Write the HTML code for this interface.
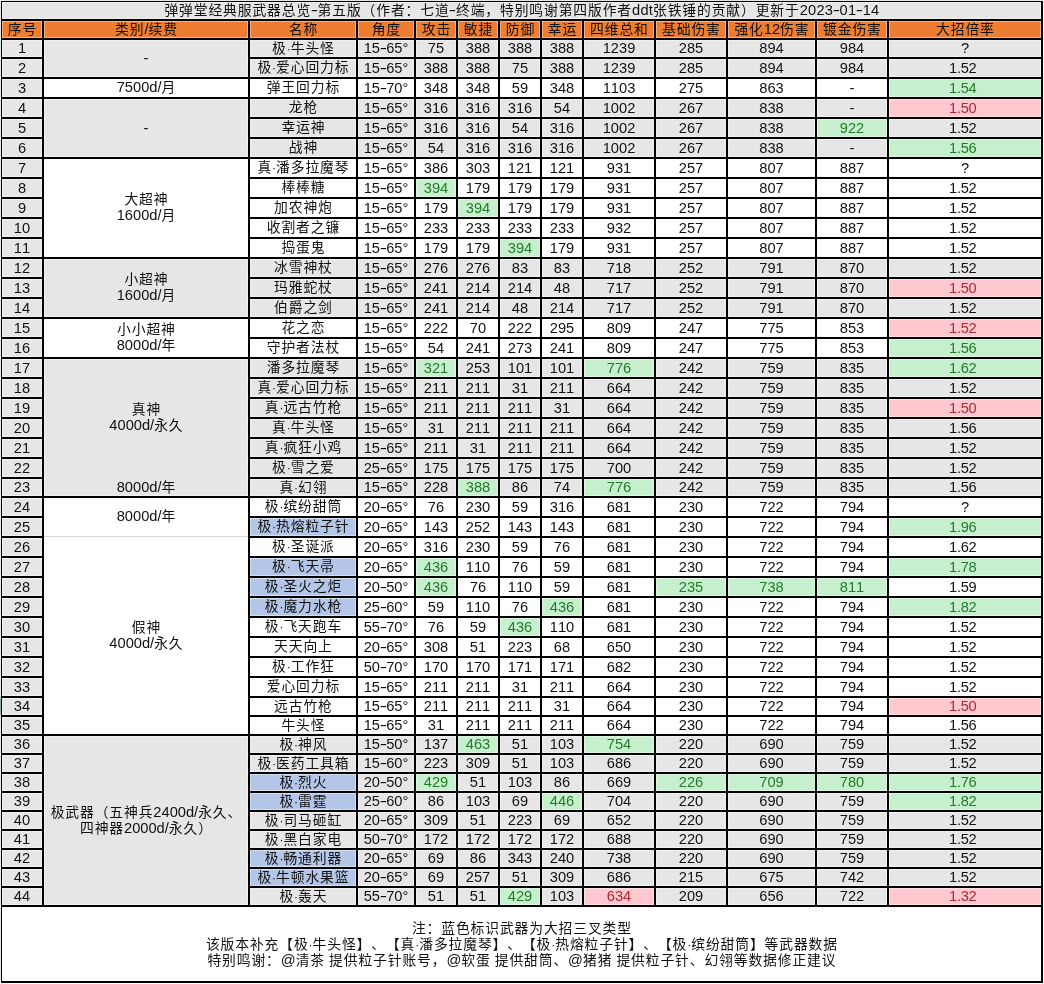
<!DOCTYPE html>
<html lang="zh-CN"><head><meta charset="utf-8"><title>弹弹堂经典服武器总览</title>
<style>
html,body{margin:0;padding:0;background:#fff}
body{width:1044px;height:984px;position:relative;overflow:hidden;font-family:"Liberation Sans","Noto Sans CJK SC",sans-serif;font-weight:400;font-size:14.67px;letter-spacing:0px;color:#111;line-height:16px}
#s{position:absolute;left:0;top:0;width:1044px;height:984px;background:#fff;overflow:hidden}
#s div{position:absolute;box-sizing:border-box}
.t{text-align:center;white-space:nowrap;overflow:visible;text-spacing-trim:space-all;font-kerning:none}
u{text-decoration:none;display:inline-block;transform:scaleX(1.5);margin:0 .7px}
.c12{letter-spacing:-0.3px}
.m{padding-right:4.5px}
.z.tt b{letter-spacing:.2px}
i{font-size:12px;font-style:normal;font-family:"Liberation Sans",sans-serif;font-weight:400}
.z{font-size:13.8px;letter-spacing:0.87px;font-weight:400;padding-left:0.87px}
.z b,.z i{font-size:14.67px;letter-spacing:0px;font-weight:400;line-height:0}
.z i{font-weight:400;font-size:12px}
.gy{background:#e7e6e6}
.or{background:#ed7d31}
.g{background:#c6efce;color:#257a2a}
.r{background:#ffc7ce;color:#aa2a38}
.b{background:#b4c6e7}
.k{background:#000}
.h{background:rgba(255,255,255,.4)}
.c0{left:2px;width:40px}
.c1{left:44px;width:204px}
.c2{left:250px;width:106px}
.c3{left:358px;width:56px}
.c4{left:416px;width:40px}
.c5{left:458px;width:40px}
.c6{left:500px;width:40px}
.c7{left:542px;width:40px}
.c8{left:584px;width:70px}
.c9{left:656px;width:70px}
.c10{left:728px;width:87px}
.c11{left:817px;width:70px}
.c12{left:889px;width:152px}
.r1{top:40px;height:17px;line-height:17px}
.r2{top:59px;height:18px;line-height:18px}
.r3{top:79px;height:18px;line-height:18px}
.r4{top:99px;height:18px;line-height:18px}
.r5{top:119px;height:18px;line-height:18px}
.r6{top:139px;height:18px;line-height:18px}
.r7{top:159px;height:18px;line-height:18px}
.r8{top:179px;height:18px;line-height:18px}
.r9{top:199px;height:18px;line-height:18px}
.r10{top:219px;height:18px;line-height:18px}
.r11{top:239px;height:18px;line-height:18px}
.r12{top:259px;height:18px;line-height:18px}
.r13{top:279px;height:18px;line-height:18px}
.r14{top:299px;height:18px;line-height:18px}
.r15{top:319px;height:18px;line-height:18px}
.r16{top:339px;height:18px;line-height:18px}
.r17{top:359px;height:18px;line-height:18px}
.r18{top:379px;height:18px;line-height:18px}
.r19{top:399px;height:18px;line-height:18px}
.r20{top:419px;height:18px;line-height:18px}
.r21{top:439px;height:18px;line-height:18px}
.r22{top:459px;height:18px;line-height:18px}
.r23{top:479px;height:17px;line-height:17px}
.r24{top:498px;height:18px;line-height:18px}
.r25{top:518px;height:18px;line-height:18px}
.r26{top:538px;height:18px;line-height:18px}
.r27{top:558px;height:18px;line-height:18px}
.r28{top:578px;height:18px;line-height:18px}
.r29{top:598px;height:18px;line-height:18px}
.r30{top:618px;height:18px;line-height:18px}
.r31{top:638px;height:18px;line-height:18px}
.r32{top:658px;height:18px;line-height:18px}
.r33{top:678px;height:18px;line-height:18px}
.r34{top:698px;height:17px;line-height:17px}
.r35{top:717px;height:17px;line-height:17px}
.r36{top:736px;height:17px;line-height:17px}
.r37{top:755px;height:17px;line-height:17px}
.r38{top:774px;height:17px;line-height:17px}
.r39{top:793px;height:17px;line-height:17px}
.r40{top:812px;height:17px;line-height:17px}
.r41{top:831px;height:17px;line-height:17px}
.r42{top:850px;height:17px;line-height:17px}
.r43{top:869px;height:17px;line-height:17px}
.r44{top:888px;height:17px;line-height:17px}
</style></head><body><div id="s">
<div style="left:0;top:0;width:1px;height:984px;background:#d6d6d6"></div>
<div style="left:0;top:18px;width:1px;height:3px;background:#a9c9ef"></div>
<div style="left:0;top:38px;width:1px;height:8px;background:#bcd6f0"></div>
<div style="left:0;top:696px;width:1px;height:20px;background:#4f7a62"></div>
<div style="left:0;top:0;width:1044px;height:1px;background:#d9d9d9"></div>
<div class="gy" style="left:2px;top:2px;width:1039px;height:17px"></div>
<div class="t z tt" style="left:2px;top:2px;width:1039px;height:17px;line-height:17px">弹弹堂经典服武器总览<b><u>-</u></b>第五版（作者：七道<b><u>-</u></b>终端，特别鸣谢第四版作者<b>ddt</b>张铁锤的贡献）更新于<b>2023<u>-</u>01<u>-</u>14</b></div>
<div class="or" style="left:2px;top:21px;width:1039px;height:17px"></div>
<div class="t z c0" style="top:21px;height:17px;line-height:17px">序号</div>
<div class="t z c1" style="top:21px;height:17px;line-height:17px">类别<b>/</b>续费</div>
<div class="t z c2" style="top:21px;height:17px;line-height:17px">名称</div>
<div class="t z c3" style="top:21px;height:17px;line-height:17px">角度</div>
<div class="t z c4" style="top:21px;height:17px;line-height:17px">攻击</div>
<div class="t z c5" style="top:21px;height:17px;line-height:17px">敏捷</div>
<div class="t z c6" style="top:21px;height:17px;line-height:17px">防御</div>
<div class="t z c7" style="top:21px;height:17px;line-height:17px">幸运</div>
<div class="t z c8" style="top:21px;height:17px;line-height:17px">四维总和</div>
<div class="t z c9" style="top:21px;height:17px;line-height:17px">基础伤害</div>
<div class="t z c10" style="top:21px;height:17px;line-height:17px">强化<b>12</b>伤害</div>
<div class="t z c11" style="top:21px;height:17px;line-height:17px">镀金伤害</div>
<div class="t z c12" style="top:21px;height:17px;line-height:17px">大招倍率</div>
<div class="gy" style="left:44px;top:40px;width:997px;height:37px"></div>
<div class="gy" style="left:44px;top:99px;width:997px;height:58px"></div>
<div class="gy" style="left:44px;top:259px;width:997px;height:58px"></div>
<div class="gy" style="left:44px;top:359px;width:997px;height:137px"></div>
<div class="gy" style="left:44px;top:736px;width:997px;height:169px"></div>
<div class="gy" style="left:2px;top:40px;width:40px;height:865px"></div>
<div class="t c0 r1">1</div> <div class="t z c2 r1">极<i>·</i>牛头怪</div> <div class="t c3 r1">15<u>-</u>65°</div> <div class="t c4 r1">75</div> <div class="t c5 r1">388</div> <div class="t c6 r1">388</div> <div class="t c7 r1">388</div> <div class="t c8 r1">1239</div> <div class="t c9 r1">285</div> <div class="t c10 r1">894</div> <div class="t c11 r1">984</div> <div class="t c12 r1">?</div>
<div class="t c0 r2">2</div> <div class="t z c2 r2">极<i>·</i>爱心回力标</div> <div class="t c3 r2">15<u>-</u>65°</div> <div class="t c4 r2">388</div> <div class="t c5 r2">388</div> <div class="t c6 r2">75</div> <div class="t c7 r2">388</div> <div class="t c8 r2">1239</div> <div class="t c9 r2">285</div> <div class="t c10 r2">894</div> <div class="t c11 r2">984</div> <div class="t c12 r2 m">1.52</div>
<div class="t c0 r3">3</div> <div class="t z c2 r3">弹王回力标</div> <div class="t c3 r3">15<u>-</u>70°</div> <div class="t c4 r3">348</div> <div class="t c5 r3">348</div> <div class="t c6 r3">59</div> <div class="t c7 r3">348</div> <div class="t c8 r3">1103</div> <div class="t c9 r3">275</div> <div class="t c10 r3">863</div> <div class="t c11 r3">-</div> <div class="t c12 r3 g m">1.54</div>
<div class="t c0 r4">4</div> <div class="t z c2 r4">龙枪</div> <div class="t c3 r4">15<u>-</u>65°</div> <div class="t c4 r4">316</div> <div class="t c5 r4">316</div> <div class="t c6 r4">316</div> <div class="t c7 r4">54</div> <div class="t c8 r4">1002</div> <div class="t c9 r4">267</div> <div class="t c10 r4">838</div> <div class="t c11 r4">-</div> <div class="t c12 r4 r m">1.50</div>
<div class="t c0 r5">5</div> <div class="t z c2 r5">幸运神</div> <div class="t c3 r5">15<u>-</u>65°</div> <div class="t c4 r5">316</div> <div class="t c5 r5">316</div> <div class="t c6 r5">54</div> <div class="t c7 r5">316</div> <div class="t c8 r5">1002</div> <div class="t c9 r5">267</div> <div class="t c10 r5">838</div> <div class="t c11 r5 g">922</div> <div class="t c12 r5 m">1.52</div>
<div class="t c0 r6">6</div> <div class="t z c2 r6">战神</div> <div class="t c3 r6">15<u>-</u>65°</div> <div class="t c4 r6">54</div> <div class="t c5 r6">316</div> <div class="t c6 r6">316</div> <div class="t c7 r6">316</div> <div class="t c8 r6">1002</div> <div class="t c9 r6">267</div> <div class="t c10 r6">838</div> <div class="t c11 r6">-</div> <div class="t c12 r6 g m">1.56</div>
<div class="t c0 r7">7</div> <div class="t z c2 r7">真<i>·</i>潘多拉魔琴</div> <div class="t c3 r7">15<u>-</u>65°</div> <div class="t c4 r7">386</div> <div class="t c5 r7">303</div> <div class="t c6 r7">121</div> <div class="t c7 r7">121</div> <div class="t c8 r7">931</div> <div class="t c9 r7">257</div> <div class="t c10 r7">807</div> <div class="t c11 r7">887</div> <div class="t c12 r7">?</div>
<div class="t c0 r8">8</div> <div class="t z c2 r8">棒棒糖</div> <div class="t c3 r8">15<u>-</u>65°</div> <div class="t c4 r8 g">394</div> <div class="t c5 r8">179</div> <div class="t c6 r8">179</div> <div class="t c7 r8">179</div> <div class="t c8 r8">931</div> <div class="t c9 r8">257</div> <div class="t c10 r8">807</div> <div class="t c11 r8">887</div> <div class="t c12 r8 m">1.52</div>
<div class="t c0 r9">9</div> <div class="t z c2 r9">加农神炮</div> <div class="t c3 r9">15<u>-</u>65°</div> <div class="t c4 r9">179</div> <div class="t c5 r9 g">394</div> <div class="t c6 r9">179</div> <div class="t c7 r9">179</div> <div class="t c8 r9">931</div> <div class="t c9 r9">257</div> <div class="t c10 r9">807</div> <div class="t c11 r9">887</div> <div class="t c12 r9 m">1.52</div>
<div class="t c0 r10">10</div> <div class="t z c2 r10">收割者之镰</div> <div class="t c3 r10">15<u>-</u>65°</div> <div class="t c4 r10">233</div> <div class="t c5 r10">233</div> <div class="t c6 r10">233</div> <div class="t c7 r10">233</div> <div class="t c8 r10">932</div> <div class="t c9 r10">257</div> <div class="t c10 r10">807</div> <div class="t c11 r10">887</div> <div class="t c12 r10 m">1.52</div>
<div class="t c0 r11">11</div> <div class="t z c2 r11">捣蛋鬼</div> <div class="t c3 r11">15<u>-</u>65°</div> <div class="t c4 r11">179</div> <div class="t c5 r11">179</div> <div class="t c6 r11 g">394</div> <div class="t c7 r11">179</div> <div class="t c8 r11">931</div> <div class="t c9 r11">257</div> <div class="t c10 r11">807</div> <div class="t c11 r11">887</div> <div class="t c12 r11 m">1.52</div>
<div class="t c0 r12">12</div> <div class="t z c2 r12">冰雪神杖</div> <div class="t c3 r12">15<u>-</u>65°</div> <div class="t c4 r12">276</div> <div class="t c5 r12">276</div> <div class="t c6 r12">83</div> <div class="t c7 r12">83</div> <div class="t c8 r12">718</div> <div class="t c9 r12">252</div> <div class="t c10 r12">791</div> <div class="t c11 r12">870</div> <div class="t c12 r12 m">1.52</div>
<div class="t c0 r13">13</div> <div class="t z c2 r13">玛雅蛇杖</div> <div class="t c3 r13">15<u>-</u>65°</div> <div class="t c4 r13">241</div> <div class="t c5 r13">214</div> <div class="t c6 r13">214</div> <div class="t c7 r13">48</div> <div class="t c8 r13">717</div> <div class="t c9 r13">252</div> <div class="t c10 r13">791</div> <div class="t c11 r13">870</div> <div class="t c12 r13 r m">1.50</div>
<div class="t c0 r14">14</div> <div class="t z c2 r14">伯爵之剑</div> <div class="t c3 r14">15<u>-</u>65°</div> <div class="t c4 r14">241</div> <div class="t c5 r14">214</div> <div class="t c6 r14">48</div> <div class="t c7 r14">214</div> <div class="t c8 r14">717</div> <div class="t c9 r14">252</div> <div class="t c10 r14">791</div> <div class="t c11 r14">870</div> <div class="t c12 r14 m">1.52</div>
<div class="t c0 r15">15</div> <div class="t z c2 r15">花之恋</div> <div class="t c3 r15">15<u>-</u>65°</div> <div class="t c4 r15">222</div> <div class="t c5 r15">70</div> <div class="t c6 r15">222</div> <div class="t c7 r15">295</div> <div class="t c8 r15">809</div> <div class="t c9 r15">247</div> <div class="t c10 r15">775</div> <div class="t c11 r15">853</div> <div class="t c12 r15 r m">1.52</div>
<div class="t c0 r16">16</div> <div class="t z c2 r16">守护者法杖</div> <div class="t c3 r16">15<u>-</u>65°</div> <div class="t c4 r16">54</div> <div class="t c5 r16">241</div> <div class="t c6 r16">273</div> <div class="t c7 r16">241</div> <div class="t c8 r16">809</div> <div class="t c9 r16">247</div> <div class="t c10 r16">775</div> <div class="t c11 r16">853</div> <div class="t c12 r16 g m">1.56</div>
<div class="t c0 r17">17</div> <div class="t z c2 r17">潘多拉魔琴</div> <div class="t c3 r17">15<u>-</u>65°</div> <div class="t c4 r17 g">321</div> <div class="t c5 r17">253</div> <div class="t c6 r17">101</div> <div class="t c7 r17">101</div> <div class="t c8 r17 g">776</div> <div class="t c9 r17">242</div> <div class="t c10 r17">759</div> <div class="t c11 r17">835</div> <div class="t c12 r17 g m">1.62</div>
<div class="t c0 r18">18</div> <div class="t z c2 r18">真<i>·</i>爱心回力标</div> <div class="t c3 r18">15<u>-</u>65°</div> <div class="t c4 r18">211</div> <div class="t c5 r18">211</div> <div class="t c6 r18">31</div> <div class="t c7 r18">211</div> <div class="t c8 r18">664</div> <div class="t c9 r18">242</div> <div class="t c10 r18">759</div> <div class="t c11 r18">835</div> <div class="t c12 r18 m">1.52</div>
<div class="t c0 r19">19</div> <div class="t z c2 r19">真<i>·</i>远古竹枪</div> <div class="t c3 r19">15<u>-</u>65°</div> <div class="t c4 r19">211</div> <div class="t c5 r19">211</div> <div class="t c6 r19">211</div> <div class="t c7 r19">31</div> <div class="t c8 r19">664</div> <div class="t c9 r19">242</div> <div class="t c10 r19">759</div> <div class="t c11 r19">835</div> <div class="t c12 r19 r m">1.50</div>
<div class="t c0 r20">20</div> <div class="t z c2 r20">真<i>·</i>牛头怪</div> <div class="t c3 r20">15<u>-</u>65°</div> <div class="t c4 r20">31</div> <div class="t c5 r20">211</div> <div class="t c6 r20">211</div> <div class="t c7 r20">211</div> <div class="t c8 r20">664</div> <div class="t c9 r20">242</div> <div class="t c10 r20">759</div> <div class="t c11 r20">835</div> <div class="t c12 r20 m">1.56</div>
<div class="t c0 r21">21</div> <div class="t z c2 r21">真<i>·</i>疯狂小鸡</div> <div class="t c3 r21">15<u>-</u>65°</div> <div class="t c4 r21">211</div> <div class="t c5 r21">31</div> <div class="t c6 r21">211</div> <div class="t c7 r21">211</div> <div class="t c8 r21">664</div> <div class="t c9 r21">242</div> <div class="t c10 r21">759</div> <div class="t c11 r21">835</div> <div class="t c12 r21 m">1.52</div>
<div class="t c0 r22">22</div> <div class="t z c2 r22">极<i>·</i>雪之爱</div> <div class="t c3 r22">25<u>-</u>65°</div> <div class="t c4 r22">175</div> <div class="t c5 r22">175</div> <div class="t c6 r22">175</div> <div class="t c7 r22">175</div> <div class="t c8 r22">700</div> <div class="t c9 r22">242</div> <div class="t c10 r22">759</div> <div class="t c11 r22">835</div> <div class="t c12 r22 m">1.52</div>
<div class="t c0 r23">23</div> <div class="t z c2 r23">真<i>·</i>幻翎</div> <div class="t c3 r23">15<u>-</u>65°</div> <div class="t c4 r23">228</div> <div class="t c5 r23 g">388</div> <div class="t c6 r23">86</div> <div class="t c7 r23">74</div> <div class="t c8 r23 g">776</div> <div class="t c9 r23">242</div> <div class="t c10 r23">759</div> <div class="t c11 r23">835</div> <div class="t c12 r23 m">1.56</div>
<div class="t c0 r24">24</div> <div class="t z c2 r24">极<i>·</i>缤纷甜筒</div> <div class="t c3 r24">20<u>-</u>65°</div> <div class="t c4 r24">76</div> <div class="t c5 r24">230</div> <div class="t c6 r24">59</div> <div class="t c7 r24">316</div> <div class="t c8 r24">681</div> <div class="t c9 r24">230</div> <div class="t c10 r24">722</div> <div class="t c11 r24">794</div> <div class="t c12 r24">?</div>
<div class="t c0 r25">25</div> <div class="t z c2 r25 b">极<i>·</i>热熔粒子针</div> <div class="t c3 r25">20<u>-</u>65°</div> <div class="t c4 r25">143</div> <div class="t c5 r25">252</div> <div class="t c6 r25">143</div> <div class="t c7 r25">143</div> <div class="t c8 r25">681</div> <div class="t c9 r25">230</div> <div class="t c10 r25">722</div> <div class="t c11 r25">794</div> <div class="t c12 r25 g m">1.96</div>
<div class="t c0 r26">26</div> <div class="t z c2 r26">极<i>·</i>圣诞派</div> <div class="t c3 r26">20<u>-</u>65°</div> <div class="t c4 r26">316</div> <div class="t c5 r26">230</div> <div class="t c6 r26">59</div> <div class="t c7 r26">76</div> <div class="t c8 r26">681</div> <div class="t c9 r26">230</div> <div class="t c10 r26">722</div> <div class="t c11 r26">794</div> <div class="t c12 r26 m">1.62</div>
<div class="t c0 r27">27</div> <div class="t z c2 r27 b">极<i>·</i>飞天帚</div> <div class="t c3 r27">20<u>-</u>65°</div> <div class="t c4 r27 g">436</div> <div class="t c5 r27">110</div> <div class="t c6 r27">76</div> <div class="t c7 r27">59</div> <div class="t c8 r27">681</div> <div class="t c9 r27">230</div> <div class="t c10 r27">722</div> <div class="t c11 r27">794</div> <div class="t c12 r27 g m">1.78</div>
<div class="t c0 r28">28</div> <div class="t z c2 r28 b">极<i>·</i>圣火之炬</div> <div class="t c3 r28">20<u>-</u>50°</div> <div class="t c4 r28 g">436</div> <div class="t c5 r28">76</div> <div class="t c6 r28">110</div> <div class="t c7 r28">59</div> <div class="t c8 r28">681</div> <div class="t c9 r28 g">235</div> <div class="t c10 r28 g">738</div> <div class="t c11 r28 g">811</div> <div class="t c12 r28 m">1.59</div>
<div class="t c0 r29">29</div> <div class="t z c2 r29 b">极<i>·</i>魔力水枪</div> <div class="t c3 r29">25<u>-</u>60°</div> <div class="t c4 r29">59</div> <div class="t c5 r29">110</div> <div class="t c6 r29">76</div> <div class="t c7 r29 g">436</div> <div class="t c8 r29">681</div> <div class="t c9 r29">230</div> <div class="t c10 r29">722</div> <div class="t c11 r29">794</div> <div class="t c12 r29 g m">1.82</div>
<div class="t c0 r30">30</div> <div class="t z c2 r30">极<i>·</i>飞天跑车</div> <div class="t c3 r30">55<u>-</u>70°</div> <div class="t c4 r30">76</div> <div class="t c5 r30">59</div> <div class="t c6 r30 g">436</div> <div class="t c7 r30">110</div> <div class="t c8 r30">681</div> <div class="t c9 r30">230</div> <div class="t c10 r30">722</div> <div class="t c11 r30">794</div> <div class="t c12 r30 m">1.52</div>
<div class="t c0 r31">31</div> <div class="t z c2 r31">天天向上</div> <div class="t c3 r31">20<u>-</u>65°</div> <div class="t c4 r31">308</div> <div class="t c5 r31">51</div> <div class="t c6 r31">223</div> <div class="t c7 r31">68</div> <div class="t c8 r31">650</div> <div class="t c9 r31">230</div> <div class="t c10 r31">722</div> <div class="t c11 r31">794</div> <div class="t c12 r31 m">1.52</div>
<div class="t c0 r32">32</div> <div class="t z c2 r32">极<i>·</i>工作狂</div> <div class="t c3 r32">50<u>-</u>70°</div> <div class="t c4 r32">170</div> <div class="t c5 r32">170</div> <div class="t c6 r32">171</div> <div class="t c7 r32">171</div> <div class="t c8 r32">682</div> <div class="t c9 r32">230</div> <div class="t c10 r32">722</div> <div class="t c11 r32">794</div> <div class="t c12 r32 m">1.52</div>
<div class="t c0 r33">33</div> <div class="t z c2 r33">爱心回力标</div> <div class="t c3 r33">15<u>-</u>65°</div> <div class="t c4 r33">211</div> <div class="t c5 r33">211</div> <div class="t c6 r33">31</div> <div class="t c7 r33">211</div> <div class="t c8 r33">664</div> <div class="t c9 r33">230</div> <div class="t c10 r33">722</div> <div class="t c11 r33">794</div> <div class="t c12 r33 m">1.52</div>
<div class="t c0 r34">34</div> <div class="t z c2 r34">远古竹枪</div> <div class="t c3 r34">15<u>-</u>65°</div> <div class="t c4 r34">211</div> <div class="t c5 r34">211</div> <div class="t c6 r34">211</div> <div class="t c7 r34">31</div> <div class="t c8 r34">664</div> <div class="t c9 r34">230</div> <div class="t c10 r34">722</div> <div class="t c11 r34">794</div> <div class="t c12 r34 r m">1.50</div>
<div class="t c0 r35">35</div> <div class="t z c2 r35">牛头怪</div> <div class="t c3 r35">15<u>-</u>65°</div> <div class="t c4 r35">31</div> <div class="t c5 r35">211</div> <div class="t c6 r35">211</div> <div class="t c7 r35">211</div> <div class="t c8 r35">664</div> <div class="t c9 r35">230</div> <div class="t c10 r35">722</div> <div class="t c11 r35">794</div> <div class="t c12 r35 m">1.56</div>
<div class="t c0 r36">36</div> <div class="t z c2 r36">极<i>·</i>神风</div> <div class="t c3 r36">15<u>-</u>50°</div> <div class="t c4 r36">137</div> <div class="t c5 r36 g">463</div> <div class="t c6 r36">51</div> <div class="t c7 r36">103</div> <div class="t c8 r36 g">754</div> <div class="t c9 r36">220</div> <div class="t c10 r36">690</div> <div class="t c11 r36">759</div> <div class="t c12 r36 m">1.52</div>
<div class="t c0 r37">37</div> <div class="t z c2 r37">极<i>·</i>医药工具箱</div> <div class="t c3 r37">15<u>-</u>60°</div> <div class="t c4 r37">223</div> <div class="t c5 r37">309</div> <div class="t c6 r37">51</div> <div class="t c7 r37">103</div> <div class="t c8 r37">686</div> <div class="t c9 r37">220</div> <div class="t c10 r37">690</div> <div class="t c11 r37">759</div> <div class="t c12 r37 m">1.52</div>
<div class="t c0 r38">38</div> <div class="t z c2 r38 b">极<i>·</i>烈火</div> <div class="t c3 r38">20<u>-</u>50°</div> <div class="t c4 r38 g">429</div> <div class="t c5 r38">51</div> <div class="t c6 r38">103</div> <div class="t c7 r38">86</div> <div class="t c8 r38">669</div> <div class="t c9 r38 g">226</div> <div class="t c10 r38 g">709</div> <div class="t c11 r38 g">780</div> <div class="t c12 r38 g m">1.76</div>
<div class="t c0 r39">39</div> <div class="t z c2 r39 b">极<i>·</i>雷霆</div> <div class="t c3 r39">25<u>-</u>60°</div> <div class="t c4 r39">86</div> <div class="t c5 r39">103</div> <div class="t c6 r39">69</div> <div class="t c7 r39 g">446</div> <div class="t c8 r39">704</div> <div class="t c9 r39">220</div> <div class="t c10 r39">690</div> <div class="t c11 r39">759</div> <div class="t c12 r39 g m">1.82</div>
<div class="t c0 r40">40</div> <div class="t z c2 r40">极<i>·</i>司马砸缸</div> <div class="t c3 r40">20<u>-</u>65°</div> <div class="t c4 r40">309</div> <div class="t c5 r40">51</div> <div class="t c6 r40">223</div> <div class="t c7 r40">69</div> <div class="t c8 r40">652</div> <div class="t c9 r40">220</div> <div class="t c10 r40">690</div> <div class="t c11 r40">759</div> <div class="t c12 r40 m">1.52</div>
<div class="t c0 r41">41</div> <div class="t z c2 r41">极<i>·</i>黑白家电</div> <div class="t c3 r41">50<u>-</u>70°</div> <div class="t c4 r41">172</div> <div class="t c5 r41">172</div> <div class="t c6 r41">172</div> <div class="t c7 r41">172</div> <div class="t c8 r41">688</div> <div class="t c9 r41">220</div> <div class="t c10 r41">690</div> <div class="t c11 r41">759</div> <div class="t c12 r41 m">1.52</div>
<div class="t c0 r42">42</div> <div class="t z c2 r42 b">极<i>·</i>畅通利器</div> <div class="t c3 r42">20<u>-</u>65°</div> <div class="t c4 r42">69</div> <div class="t c5 r42">86</div> <div class="t c6 r42">343</div> <div class="t c7 r42">240</div> <div class="t c8 r42">738</div> <div class="t c9 r42">220</div> <div class="t c10 r42">690</div> <div class="t c11 r42">759</div> <div class="t c12 r42 m">1.52</div>
<div class="t c0 r43">43</div> <div class="t z c2 r43 b">极<i>·</i>牛顿水果篮</div> <div class="t c3 r43">20<u>-</u>65°</div> <div class="t c4 r43">69</div> <div class="t c5 r43">257</div> <div class="t c6 r43">51</div> <div class="t c7 r43">309</div> <div class="t c8 r43">686</div> <div class="t c9 r43">215</div> <div class="t c10 r43">675</div> <div class="t c11 r43">742</div> <div class="t c12 r43 m">1.52</div>
<div class="t c0 r44">44</div> <div class="t z c2 r44">极<i>·</i>轰天</div> <div class="t c3 r44">55<u>-</u>70°</div> <div class="t c4 r44">51</div> <div class="t c5 r44">51</div> <div class="t c6 r44 g">429</div> <div class="t c7 r44">103</div> <div class="t c8 r44 r">634</div> <div class="t c9 r44">209</div> <div class="t c10 r44">656</div> <div class="t c11 r44">722</div> <div class="t c12 r44 r m">1.32</div>
<div class="t c1" style="top:40px;height:37px;line-height:37px">-</div>
<div class="t z c1" style="top:79px;height:18px;line-height:18px"><b>7500d/</b>月</div>
<div class="t c1" style="top:99px;height:58px;line-height:58px">-</div>
<div class="t z c1" style="top:159px;height:98px;line-height:16px;padding-top:33px">大超神<br><b>1600d/</b>月</div>
<div class="t z c1" style="top:259px;height:58px;line-height:16px;padding-top:13px">小超神<br><b>1600d/</b>月</div>
<div class="t z c1" style="top:319px;height:38px;line-height:16px;padding-top:3px">小小超神<br><b>8000d/</b>年</div>
<div class="t z c1" style="top:359px;height:118px;line-height:16px;padding-top:43px">真神<br><b>4000d/</b>永久</div>
<div class="t z c1" style="top:479px;height:17px;line-height:17px"><b>8000d/</b>年</div>
<div class="t z c1" style="top:498px;height:38px;line-height:38px"><b>8000d/</b>年</div>
<div class="t z c1" style="top:538px;height:196px;line-height:16px;padding-top:82px">假神<br><b>4000d/</b>永久</div>
<div class="t z c1" style="top:736px;height:169px;line-height:16px;padding-top:69px">极武器（五神兵<b>2400d/</b>永久、<br>四神器<b>2000d/</b>永久）</div>
<div class="h" style="left:41px;top:20px;width:4px;height:888px"></div>
<div class="h" style="left:247px;top:20px;width:4px;height:888px"></div>
<div class="h" style="left:355px;top:20px;width:4px;height:888px"></div>
<div class="h" style="left:413px;top:20px;width:4px;height:888px"></div>
<div class="h" style="left:455px;top:20px;width:4px;height:888px"></div>
<div class="h" style="left:497px;top:20px;width:4px;height:888px"></div>
<div class="h" style="left:539px;top:20px;width:4px;height:888px"></div>
<div class="h" style="left:581px;top:20px;width:4px;height:888px"></div>
<div class="h" style="left:653px;top:20px;width:4px;height:888px"></div>
<div class="h" style="left:725px;top:20px;width:4px;height:888px"></div>
<div class="h" style="left:814px;top:20px;width:4px;height:888px"></div>
<div class="h" style="left:886px;top:20px;width:4px;height:888px"></div>
<div class="h" style="left:0px;top:0px;width:3px;height:984px"></div>
<div class="h" style="left:1040px;top:0px;width:4px;height:984px"></div>
<div class="h" style="left:0px;top:0px;width:1044px;height:3px"></div>
<div class="h" style="left:0px;top:980px;width:1044px;height:4px"></div>
<div class="h" style="left:0px;top:18px;width:1044px;height:4px"></div>
<div class="h" style="left:0px;top:37px;width:1044px;height:4px"></div>
<div class="h" style="left:0px;top:56px;width:45px;height:4px"></div>
<div class="h" style="left:247px;top:56px;width:797px;height:4px"></div>
<div class="h" style="left:0px;top:76px;width:1044px;height:4px"></div>
<div class="h" style="left:0px;top:96px;width:1044px;height:4px"></div>
<div class="h" style="left:0px;top:116px;width:45px;height:4px"></div>
<div class="h" style="left:247px;top:116px;width:797px;height:4px"></div>
<div class="h" style="left:0px;top:136px;width:45px;height:4px"></div>
<div class="h" style="left:247px;top:136px;width:797px;height:4px"></div>
<div class="h" style="left:0px;top:156px;width:1044px;height:4px"></div>
<div class="h" style="left:0px;top:176px;width:45px;height:4px"></div>
<div class="h" style="left:247px;top:176px;width:797px;height:4px"></div>
<div class="h" style="left:0px;top:196px;width:45px;height:4px"></div>
<div class="h" style="left:247px;top:196px;width:797px;height:4px"></div>
<div class="h" style="left:0px;top:216px;width:45px;height:4px"></div>
<div class="h" style="left:247px;top:216px;width:797px;height:4px"></div>
<div class="h" style="left:0px;top:236px;width:45px;height:4px"></div>
<div class="h" style="left:247px;top:236px;width:797px;height:4px"></div>
<div class="h" style="left:0px;top:256px;width:1044px;height:4px"></div>
<div class="h" style="left:0px;top:276px;width:45px;height:4px"></div>
<div class="h" style="left:247px;top:276px;width:797px;height:4px"></div>
<div class="h" style="left:0px;top:296px;width:45px;height:4px"></div>
<div class="h" style="left:247px;top:296px;width:797px;height:4px"></div>
<div class="h" style="left:0px;top:316px;width:1044px;height:4px"></div>
<div class="h" style="left:0px;top:336px;width:45px;height:4px"></div>
<div class="h" style="left:247px;top:336px;width:797px;height:4px"></div>
<div class="h" style="left:0px;top:356px;width:1044px;height:4px"></div>
<div class="h" style="left:0px;top:376px;width:45px;height:4px"></div>
<div class="h" style="left:247px;top:376px;width:797px;height:4px"></div>
<div class="h" style="left:0px;top:396px;width:45px;height:4px"></div>
<div class="h" style="left:247px;top:396px;width:797px;height:4px"></div>
<div class="h" style="left:0px;top:416px;width:45px;height:4px"></div>
<div class="h" style="left:247px;top:416px;width:797px;height:4px"></div>
<div class="h" style="left:0px;top:436px;width:45px;height:4px"></div>
<div class="h" style="left:247px;top:436px;width:797px;height:4px"></div>
<div class="h" style="left:0px;top:456px;width:45px;height:4px"></div>
<div class="h" style="left:247px;top:456px;width:797px;height:4px"></div>
<div class="h" style="left:0px;top:476px;width:45px;height:4px"></div>
<div class="h" style="left:247px;top:476px;width:797px;height:4px"></div>
<div class="h" style="left:0px;top:495px;width:1044px;height:4px"></div>
<div class="h" style="left:0px;top:515px;width:45px;height:4px"></div>
<div class="h" style="left:247px;top:515px;width:797px;height:4px"></div>
<div class="h" style="left:0px;top:535px;width:45px;height:4px"></div>
<div class="h" style="left:247px;top:535px;width:797px;height:4px"></div>
<div class="h" style="left:0px;top:555px;width:45px;height:4px"></div>
<div class="h" style="left:247px;top:555px;width:797px;height:4px"></div>
<div class="h" style="left:0px;top:575px;width:45px;height:4px"></div>
<div class="h" style="left:247px;top:575px;width:797px;height:4px"></div>
<div class="h" style="left:0px;top:595px;width:45px;height:4px"></div>
<div class="h" style="left:247px;top:595px;width:797px;height:4px"></div>
<div class="h" style="left:0px;top:615px;width:45px;height:4px"></div>
<div class="h" style="left:247px;top:615px;width:797px;height:4px"></div>
<div class="h" style="left:0px;top:635px;width:45px;height:4px"></div>
<div class="h" style="left:247px;top:635px;width:797px;height:4px"></div>
<div class="h" style="left:0px;top:655px;width:45px;height:4px"></div>
<div class="h" style="left:247px;top:655px;width:797px;height:4px"></div>
<div class="h" style="left:0px;top:675px;width:45px;height:4px"></div>
<div class="h" style="left:247px;top:675px;width:797px;height:4px"></div>
<div class="h" style="left:0px;top:695px;width:45px;height:4px"></div>
<div class="h" style="left:247px;top:695px;width:797px;height:4px"></div>
<div class="h" style="left:0px;top:714px;width:45px;height:4px"></div>
<div class="h" style="left:247px;top:714px;width:797px;height:4px"></div>
<div class="h" style="left:0px;top:733px;width:1044px;height:4px"></div>
<div class="h" style="left:0px;top:752px;width:45px;height:4px"></div>
<div class="h" style="left:247px;top:752px;width:797px;height:4px"></div>
<div class="h" style="left:0px;top:771px;width:45px;height:4px"></div>
<div class="h" style="left:247px;top:771px;width:797px;height:4px"></div>
<div class="h" style="left:0px;top:790px;width:45px;height:4px"></div>
<div class="h" style="left:247px;top:790px;width:797px;height:4px"></div>
<div class="h" style="left:0px;top:809px;width:45px;height:4px"></div>
<div class="h" style="left:247px;top:809px;width:797px;height:4px"></div>
<div class="h" style="left:0px;top:828px;width:45px;height:4px"></div>
<div class="h" style="left:247px;top:828px;width:797px;height:4px"></div>
<div class="h" style="left:0px;top:847px;width:45px;height:4px"></div>
<div class="h" style="left:247px;top:847px;width:797px;height:4px"></div>
<div class="h" style="left:0px;top:866px;width:45px;height:4px"></div>
<div class="h" style="left:247px;top:866px;width:797px;height:4px"></div>
<div class="h" style="left:0px;top:885px;width:45px;height:4px"></div>
<div class="h" style="left:247px;top:885px;width:797px;height:4px"></div>
<div class="h" style="left:0px;top:904px;width:1044px;height:4px"></div>
<div class="k" style="left:42px;top:21px;width:2px;height:886px"></div>
<div class="k" style="left:248px;top:21px;width:2px;height:886px"></div>
<div class="k" style="left:356px;top:21px;width:2px;height:886px"></div>
<div class="k" style="left:414px;top:21px;width:2px;height:886px"></div>
<div class="k" style="left:456px;top:21px;width:2px;height:886px"></div>
<div class="k" style="left:498px;top:21px;width:2px;height:886px"></div>
<div class="k" style="left:540px;top:21px;width:2px;height:886px"></div>
<div class="k" style="left:582px;top:21px;width:2px;height:886px"></div>
<div class="k" style="left:654px;top:21px;width:2px;height:886px"></div>
<div class="k" style="left:726px;top:21px;width:2px;height:886px"></div>
<div class="k" style="left:815px;top:21px;width:2px;height:886px"></div>
<div class="k" style="left:887px;top:21px;width:2px;height:886px"></div>
<div class="k" style="left:1px;top:1px;width:1px;height:982px"></div>
<div class="k" style="left:1041px;top:1px;width:2px;height:982px"></div>
<div class="k" style="left:1px;top:1px;width:1042px;height:1px"></div>
<div class="k" style="left:1px;top:981px;width:1042px;height:2px"></div>
<div class="k" style="left:1px;top:19px;width:1042px;height:2px"></div>
<div class="k" style="left:1px;top:38px;width:1042px;height:2px"></div>
<div class="k" style="left:1px;top:57px;width:43px;height:2px"></div><div class="k" style="left:248px;top:57px;width:795px;height:2px"></div>
<div class="k" style="left:1px;top:77px;width:1042px;height:2px"></div>
<div class="k" style="left:1px;top:97px;width:1042px;height:2px"></div>
<div class="k" style="left:1px;top:117px;width:43px;height:2px"></div><div class="k" style="left:248px;top:117px;width:795px;height:2px"></div>
<div class="k" style="left:1px;top:137px;width:43px;height:2px"></div><div class="k" style="left:248px;top:137px;width:795px;height:2px"></div>
<div class="k" style="left:1px;top:157px;width:1042px;height:2px"></div>
<div class="k" style="left:1px;top:177px;width:43px;height:2px"></div><div class="k" style="left:248px;top:177px;width:795px;height:2px"></div>
<div class="k" style="left:1px;top:197px;width:43px;height:2px"></div><div class="k" style="left:248px;top:197px;width:795px;height:2px"></div>
<div class="k" style="left:1px;top:217px;width:43px;height:2px"></div><div class="k" style="left:248px;top:217px;width:795px;height:2px"></div>
<div class="k" style="left:1px;top:237px;width:43px;height:2px"></div><div class="k" style="left:248px;top:237px;width:795px;height:2px"></div>
<div class="k" style="left:1px;top:257px;width:1042px;height:2px"></div>
<div class="k" style="left:1px;top:277px;width:43px;height:2px"></div><div class="k" style="left:248px;top:277px;width:795px;height:2px"></div>
<div class="k" style="left:1px;top:297px;width:43px;height:2px"></div><div class="k" style="left:248px;top:297px;width:795px;height:2px"></div>
<div class="k" style="left:1px;top:317px;width:1042px;height:2px"></div>
<div class="k" style="left:1px;top:337px;width:43px;height:2px"></div><div class="k" style="left:248px;top:337px;width:795px;height:2px"></div>
<div class="k" style="left:1px;top:357px;width:1042px;height:2px"></div>
<div class="k" style="left:1px;top:377px;width:43px;height:2px"></div><div class="k" style="left:248px;top:377px;width:795px;height:2px"></div>
<div class="k" style="left:1px;top:397px;width:43px;height:2px"></div><div class="k" style="left:248px;top:397px;width:795px;height:2px"></div>
<div class="k" style="left:1px;top:417px;width:43px;height:2px"></div><div class="k" style="left:248px;top:417px;width:795px;height:2px"></div>
<div class="k" style="left:1px;top:437px;width:43px;height:2px"></div><div class="k" style="left:248px;top:437px;width:795px;height:2px"></div>
<div class="k" style="left:1px;top:457px;width:43px;height:2px"></div><div class="k" style="left:248px;top:457px;width:795px;height:2px"></div>
<div class="k" style="left:1px;top:477px;width:43px;height:2px"></div><div class="k" style="left:248px;top:477px;width:795px;height:2px"></div>
<div class="k" style="left:1px;top:496px;width:1042px;height:2px"></div>
<div class="k" style="left:1px;top:516px;width:43px;height:2px"></div><div class="k" style="left:248px;top:516px;width:795px;height:2px"></div>
<div class="k" style="left:1px;top:536px;width:43px;height:2px"></div><div class="k" style="left:248px;top:536px;width:795px;height:2px"></div>
<div class="k" style="left:1px;top:556px;width:43px;height:2px"></div><div class="k" style="left:248px;top:556px;width:795px;height:2px"></div>
<div class="k" style="left:1px;top:576px;width:43px;height:2px"></div><div class="k" style="left:248px;top:576px;width:795px;height:2px"></div>
<div class="k" style="left:1px;top:596px;width:43px;height:2px"></div><div class="k" style="left:248px;top:596px;width:795px;height:2px"></div>
<div class="k" style="left:1px;top:616px;width:43px;height:2px"></div><div class="k" style="left:248px;top:616px;width:795px;height:2px"></div>
<div class="k" style="left:1px;top:636px;width:43px;height:2px"></div><div class="k" style="left:248px;top:636px;width:795px;height:2px"></div>
<div class="k" style="left:1px;top:656px;width:43px;height:2px"></div><div class="k" style="left:248px;top:656px;width:795px;height:2px"></div>
<div class="k" style="left:1px;top:676px;width:43px;height:2px"></div><div class="k" style="left:248px;top:676px;width:795px;height:2px"></div>
<div class="k" style="left:1px;top:696px;width:43px;height:2px"></div><div class="k" style="left:248px;top:696px;width:795px;height:2px"></div>
<div class="k" style="left:1px;top:715px;width:43px;height:2px"></div><div class="k" style="left:248px;top:715px;width:795px;height:2px"></div>
<div class="k" style="left:1px;top:734px;width:1042px;height:2px"></div>
<div class="k" style="left:1px;top:753px;width:43px;height:2px"></div><div class="k" style="left:248px;top:753px;width:795px;height:2px"></div>
<div class="k" style="left:1px;top:772px;width:43px;height:2px"></div><div class="k" style="left:248px;top:772px;width:795px;height:2px"></div>
<div class="k" style="left:1px;top:791px;width:43px;height:2px"></div><div class="k" style="left:248px;top:791px;width:795px;height:2px"></div>
<div class="k" style="left:1px;top:810px;width:43px;height:2px"></div><div class="k" style="left:248px;top:810px;width:795px;height:2px"></div>
<div class="k" style="left:1px;top:829px;width:43px;height:2px"></div><div class="k" style="left:248px;top:829px;width:795px;height:2px"></div>
<div class="k" style="left:1px;top:848px;width:43px;height:2px"></div><div class="k" style="left:248px;top:848px;width:795px;height:2px"></div>
<div class="k" style="left:1px;top:867px;width:43px;height:2px"></div><div class="k" style="left:248px;top:867px;width:795px;height:2px"></div>
<div class="k" style="left:1px;top:886px;width:43px;height:2px"></div><div class="k" style="left:248px;top:886px;width:795px;height:2px"></div>
<div class="k" style="left:1px;top:905px;width:1042px;height:2px"></div>
<div style="left:44px;top:536px;width:204px;height:1px;background:#d4d4d4"></div>
<div class="t z f0" style="left:2px;top:921px;width:1039px;height:16px;line-height:16px">注：蓝色标识武器为大招三叉类型</div>
<div class="t z f1" style="left:2px;top:937px;width:1039px;height:16px;line-height:16px">该版本补充【极<i>·</i>牛头怪】、【真<i>·</i>潘多拉魔琴】、【极<i>·</i>热熔粒子针】、【极<i>·</i>缤纷甜筒】等武器数据</div>
<div class="t z f2" style="left:2px;top:953px;width:1039px;height:16px;line-height:16px">特别鸣谢：<b>@</b>清茶<b> </b>提供粒子针账号，<b>@</b>软蛋<b> </b>提供甜筒、<b>@</b>猪猪<b> </b>提供粒子针、幻翎等数据修正建议</div>
</div></body></html>
